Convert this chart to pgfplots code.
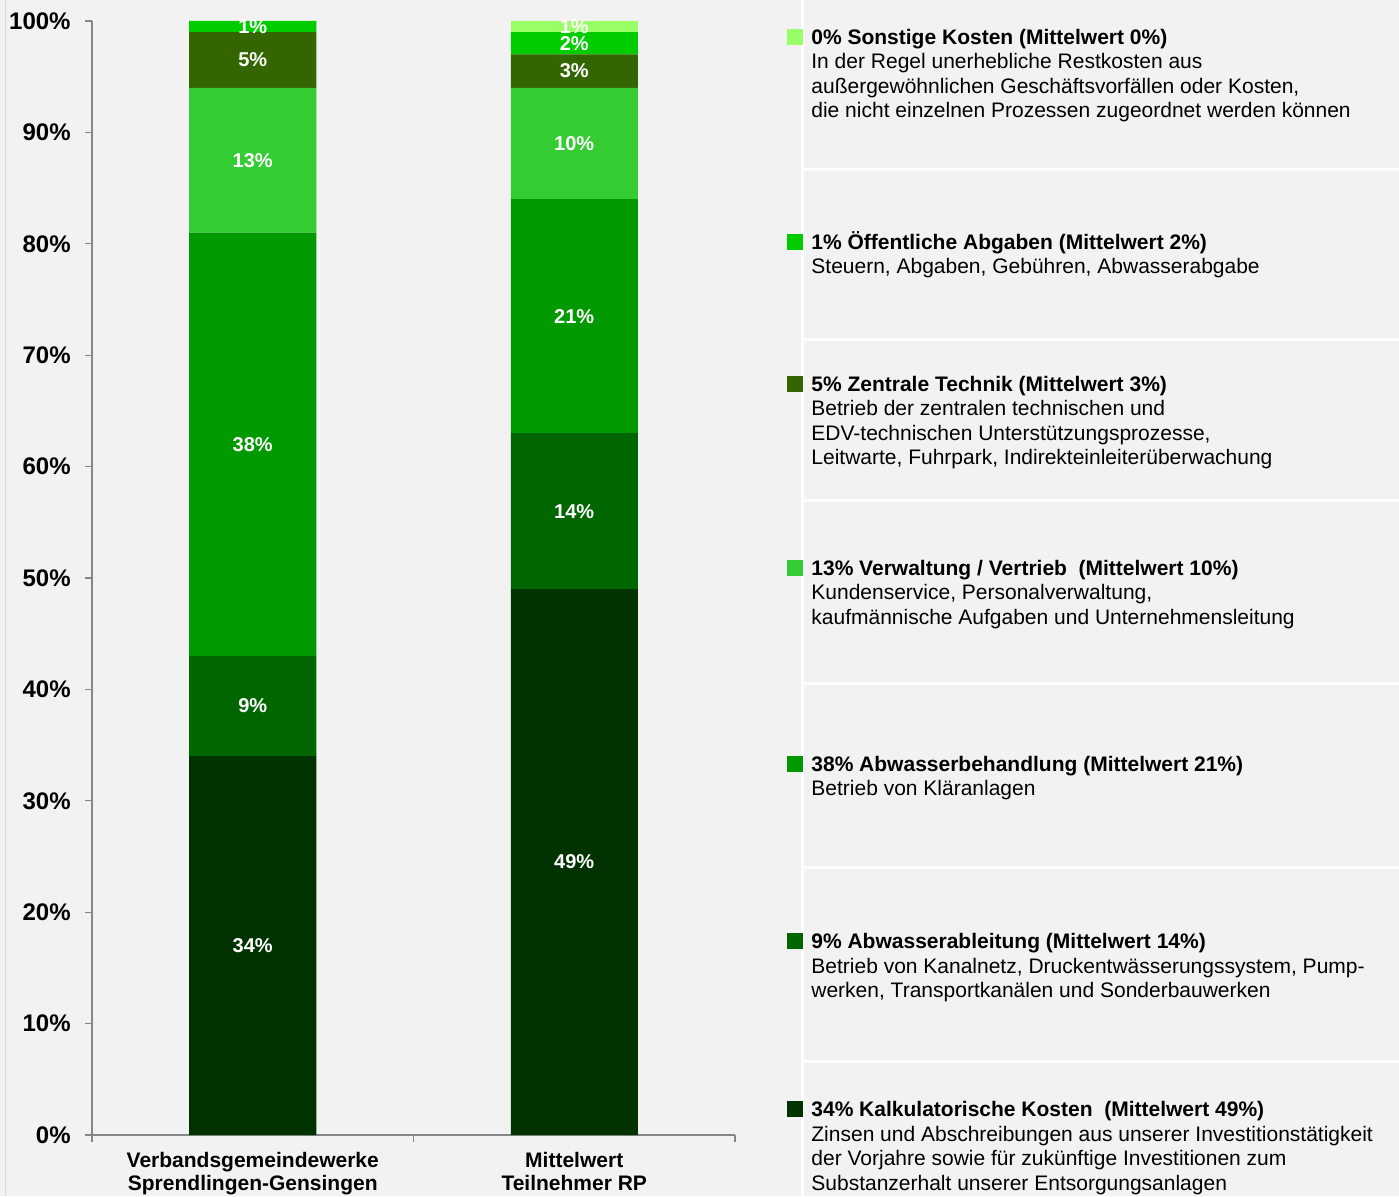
\documentclass[border=0pt]{standalone}
\usepackage{fontspec}
\setmainfont{Liberation Sans}
\usepackage{pgfplots}
\pgfplotsset{compat=1.18}
\usepackage{pgfplotstable}

\definecolor{bg}{HTML}{F2F2F2}
\definecolor{axisgray}{HTML}{868686}
\definecolor{csonst}{HTML}{99FF66}
\definecolor{coeff}{HTML}{00CC00}
\definecolor{czentral}{HTML}{336600}
\definecolor{cverw}{HTML}{33CC33}
\definecolor{cbehand}{HTML}{009900}
\definecolor{cableit}{HTML}{006600}
\definecolor{ckalk}{HTML}{003300}

% x: 0 = Verbandsgemeindewerke, 1 = Mittelwert Teilnehmer RP
\pgfplotstableread{
x kalk ableit behand verw zentral oeff sonst
0 34   9      38     13   5       1    0
1 49   14     21     10   3       2    1
}\kosten

% legend entry: baseline of heading (px from top), colour, heading, lines
\newcommand\legentry[4]{%
  \fill[#2] (787,#1-15.5) rectangle (803,#1+0.5);
  \node[anchor=base west, inner sep=0pt, font=\fontsize{10.5}{12.25}\selectfont]
    at (811,#1) {\begin{tabular}[t]{@{}l@{}}\textbf{#3}\\#4\end{tabular}};
}

\pgfplotsset{
  seg/.style 2 args={fill=#2, draw=none,
    visualization depends on={\thisrow{#1} \as \segval}},
}

\begin{document}
\begin{tikzpicture}
\useasboundingbox (0,0) rectangle (699.5pt,598pt);
\fill[bg] (0,0) rectangle (699.5pt,598pt);
\begin{scope}[x=0.5pt,y=-0.5pt,shift={(0pt,598pt)}]
  \draw[gray!30, line width=0.5pt] (5.5,0) -- (5.5,1196);
  \draw[white, line width=1.5pt] (802,0) -- (802,1196);
  \foreach \yy in {170,340,501,684,868,1061}
    \draw[white, line width=1.5pt] (802,\yy) -- (1399,\yy);
\end{scope}

\begin{axis}[
  at={(46pt,30.5pt)}, anchor=south west,
  scale only axis, width=321.5pt, height=557pt,
  ybar stacked, bar width=63.5pt,
  xmin=-0.5, xmax=1.5, ymin=0, ymax=100,
  axis x line=bottom, axis y line=left,
  axis line style={draw=axisgray, line width=0.6pt, -},
  tick align=outside,
  major tick length=3.5pt, minor tick length=3.5pt,
  xtick={0,1},
  xticklabels={{Verbandsgemeindewerke\\Sprendlingen-Gensingen},{Mittelwert\\Teilnehmer RP}},
  major x tick style={draw=none},
  minor xtick={-0.5,0.5,1.5},
  minor x tick style={draw=axisgray, line width=0.6pt},
  xticklabel style={font=\bfseries\fontsize{10.5}{11.5}\selectfont, align=center,
    inner sep=0pt, anchor=north, yshift=-5pt},
  ytick={0,10,...,100},
  yticklabel={\pgfmathprintnumber{\tick}\%},
  ytick style={draw=axisgray, line width=0.6pt},
  yticklabel style={font=\bfseries\fontsize{12}{14}\selectfont, inner sep=0pt,
    anchor=east, xshift=-7pt},
  /pgf/number format/assume math mode=true,
  nodes near coords={\pgfmathprintnumber{\segval}\%},
  every node near coord/.append style={font=\bfseries\fontsize{10}{12}\selectfont,
    text=white, anchor=center},
]
\addplot[seg={kalk}{ckalk}]       table[x=x, y=kalk]    {\kosten};
\addplot[seg={ableit}{cableit}]   table[x=x, y=ableit]  {\kosten};
\addplot[seg={behand}{cbehand}]   table[x=x, y=behand]  {\kosten};
\addplot[seg={verw}{cverw}]       table[x=x, y=verw]    {\kosten};
\addplot[seg={zentral}{czentral}] table[x=x, y=zentral] {\kosten};
\addplot[seg={oeff}{coeff}]       table[x=x, y=oeff]    {\kosten};
\addplot[seg={sonst}{csonst}]     table[x=x, y=sonst]   {\kosten};
\end{axis}

\begin{scope}[x=0.5pt,y=-0.5pt,shift={(0pt,598pt)}]
  \legentry{44.5}{csonst}{0\% Sonstige Kosten (Mittelwert 0\%)}%
    {In der Regel unerhebliche Restkosten aus\\außergewöhnlichen Geschäftsvorfällen oder Kosten,\\die nicht einzelnen Prozessen zugeordnet werden können}
  \legentry{249.5}{coeff}{1\% Öffentliche Abgaben (Mittelwert 2\%)}%
    {Steuern, Abgaben, Gebühren, Abwasserabgabe}
  \legentry{391.5}{czentral}{5\% Zentrale Technik (Mittelwert 3\%)}%
    {Betrieb der zentralen technischen und\\EDV-technischen Unterstützungsprozesse,\\Leitwarte, Fuhrpark, Indirekteinleiterüberwachung}
  \legentry{575.5}{cverw}{13\% Verwaltung / Vertrieb \ (Mittelwert 10\%)}%
    {Kundenservice, Personalverwaltung,\\kaufmännische Aufgaben und Unternehmensleitung}
  \legentry{771.5}{cbehand}{38\% Abwasserbehandlung (Mittelwert 21\%)}%
    {Betrieb von Kläranlagen}
  \legentry{948.5}{cableit}{9\% Abwasserableitung (Mittelwert 14\%)}%
    {Betrieb von Kanalnetz, Druckentwässerungssystem, Pump-\\werken, Transportkanälen und Sonderbauwerken}
  \legentry{1116.5}{ckalk}{34\% Kalkulatorische Kosten \ (Mittelwert 49\%)}%
    {Zinsen und Abschreibungen aus unserer Investitionstätigkeit\\der Vorjahre sowie für zukünftige Investitionen zum\\Substanzerhalt unserer Entsorgungsanlagen}
\end{scope}
\end{tikzpicture}
\end{document}
